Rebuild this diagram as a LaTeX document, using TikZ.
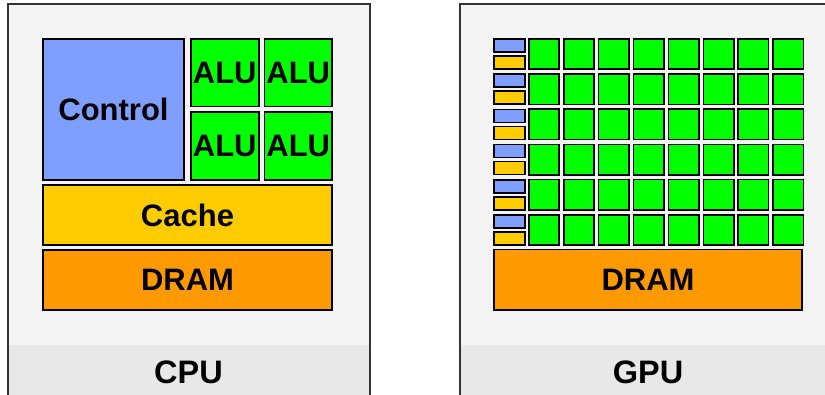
\documentclass[tikz,border=0pt]{standalone}
\usepackage{fontspec}
\setmainfont{Liberation Sans}
\usetikzlibrary{positioning}
\definecolor{ctrlblue}{HTML}{7F9FFF}
\definecolor{alugreen}{HTML}{00FF00}
\definecolor{cacheyellow}{HTML}{FFCC00}
\definecolor{dramorange}{HTML}{FF9900}
\definecolor{panelgray}{HTML}{F4F4F4}
\definecolor{bandgray}{HTML}{E8E8E8}
\tikzset{
  unitbox/.style={draw=black, line width=1.6pt, inner sep=0pt, outer sep=0pt, font=\fontsize{31}{31}\selectfont\bfseries},
  ctrlbox/.style={unitbox, fill=ctrlblue},
  alubox/.style={unitbox, fill=alugreen, minimum width=67.9pt, minimum height=67.9pt},
  cachebox/.style={unitbox, fill=cacheyellow},
  drambox/.style={unitbox, fill=dramorange, minimum height=60.4pt},
  panelline/.style={draw=black!80, line width=1.6pt},
  chiplabel/.style={font=\fontsize{32.5}{32.5}\selectfont\bfseries}
}

\begin{document}
\begin{tikzpicture}[x=1pt,y=-1pt]
\useasboundingbox (0,0) rectangle (825,395);
% panels
\fill[panelgray] (8,4) rectangle (370,400);
\fill[bandgray] (8,345) rectangle (370,400);
\draw[panelline] (8,404) -- (8,4) -- (370,4) -- (370,404);
\fill[panelgray] (460,4) rectangle (830,400);
\fill[bandgray] (460,345) rectangle (830,400);
\draw[panelline] (460,404) -- (460,4) -- (830,4);

% CPU
\node[ctrlbox, minimum width=141.4pt, minimum height=141.4pt] (ctrl) at (113.5,109.5) {Control};
\node[alubox, right=6.6pt of ctrl.north east, anchor=north west] (alu1) {ALU};
\node[alubox, right=5.6pt of alu1] (alu2) {ALU};
\node[alubox, below=5.6pt of alu1] (alu3) {ALU};
\node[alubox, below=5.6pt of alu2] (alu4) {ALU};
\node[cachebox, minimum width=289.4pt, minimum height=60.4pt, below=4.6pt of ctrl.south west, anchor=north west] (cache) {Cache};
\node[drambox, minimum width=289.4pt, below=4.6pt of cache] (cpudram) {DRAM};
\node[chiplabel] (cpulabel) at (188.5,372) {CPU};

% GPU
\foreach \r in {0,...,5}{
  \node[ctrlbox, minimum width=31.4pt, minimum height=13pt] (gctrl-\r) at (509.5,45.5+35.2*\r) {};
  \node[cachebox, minimum width=31.4pt, minimum height=13pt] (gcache-\r) at (509.5,62.5+35.2*\r) {};
  \foreach \c in {0,...,7}
    \node[alubox, minimum width=30.4pt, minimum height=30.4pt] (galu-\r-\c) at (544+34.9*\c,54+35.2*\r) {};
}
\node[drambox, minimum width=308.4pt, below=4.6pt of gcache-5.south west, anchor=north west] (gpudram) {DRAM};
\node[chiplabel] (gpulabel) at (648,372) {GPU};
\end{tikzpicture}
\end{document}
